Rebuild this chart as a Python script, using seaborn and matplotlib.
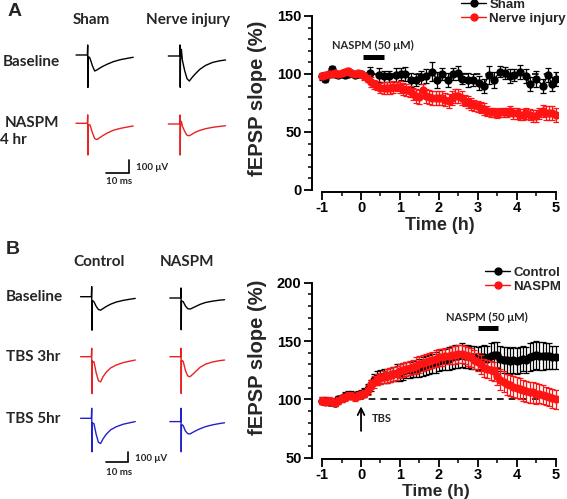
import numpy as np
import pandas as pd
import matplotlib
matplotlib.use("Agg")
import matplotlib.pyplot as plt
from matplotlib.lines import Line2D
from matplotlib.ticker import MultipleLocator
import seaborn as sns

# ---------------------------------------------------------------- data
# one sweep every 5 min from -1 h to 5 h
time_5min = np.arange(-60, 301, 5) / 60.0

# A: sham vs nerve injury, NASPM applied at 0 h
sham_time = [-1.0, -0.917, -0.833, -0.75, -0.667, -0.583, -0.5, -0.417, -0.333,
             -0.25, -0.167, -0.083, 0.0,
             0.22, 0.46, 0.6, 0.73, 0.9, 1.02, 1.14, 1.29, 1.42, 1.55, 1.67, 1.83,
             1.95, 2.08, 2.23, 2.36, 2.49, 2.6, 2.75, 2.87, 3.03, 3.16, 3.28, 3.43,
             3.56, 3.69, 3.82, 3.94, 4.09, 4.23, 4.35, 4.5, 4.67, 4.8, 4.91, 5.0]
sham_slope = [98, 96, 100, 104, 100, 99, 100, 99, 100, 101, 99, 100, 100,
              101, 99, 98, 98, 99, 100, 100, 95, 95, 97, 98, 102,
              95, 100, 95, 100, 101, 96, 95, 95, 92, 90, 99, 95,
              102, 101, 98, 99, 102, 98, 91, 96, 90, 99, 91, 96]
sham_sem = [3, 3, 2, 3, 2, 2, 2, 2, 3, 2, 2, 2, 3,
            5, 6, 5, 5, 6, 5, 6, 6, 5, 6, 6, 8,
            7, 5, 6, 5, 6, 5, 6, 5, 6, 6, 8, 7,
            5, 5, 6, 5, 6, 6, 6, 7, 6, 6, 6, 6]

injury_slope = [98, 99, 100, 100, 101, 100, 101, 102, 103, 101, 100, 101, 100,
                98, 96, 93, 91, 90, 88, 88, 88, 88, 89, 89, 89,
                87, 86, 85, 83, 81, 80, 86, 81, 80, 79, 79, 79,
                79, 78, 77, 79, 81, 81, 79, 77, 76, 74, 73, 72,
                71, 70, 68, 67, 67, 66, 67, 67, 67, 68, 66, 66,
                65, 65, 66, 65, 64, 64, 66, 68, 66, 66, 66, 65]
injury_sem = [2, 2, 2, 2, 2, 2, 2, 2, 2, 2, 2, 2, 2,
              3, 3, 4, 4, 4, 4, 5, 5, 5, 5, 4, 5,
              5, 5, 5, 5, 6, 6, 5, 6, 6, 6, 6, 6,
              6, 6, 6, 6, 6, 6, 6, 5, 5, 5, 5, 5,
              5, 5, 4, 4, 4, 4, 4, 4, 4, 4, 5, 5,
              5, 5, 5, 5, 5, 5, 5, 5, 6, 6, 6, 6]
naspm_window_a = (0.05, 0.58)

# B: TBS at 0 h, control vs NASPM at 3 h
control_slope = [99, 99, 98, 98, 97, 100, 101, 103, 104, 104, 103, 104, 105,
                 106, 109, 112, 117, 118, 119, 120, 120, 121, 122, 123, 123,
                 124, 125, 125, 126, 126, 127, 128, 129, 130, 131, 132, 133,
                 134, 134, 135, 136, 137, 137, 138, 137, 137, 136, 136, 135,
                 136, 136, 135, 137, 138, 138, 135, 134, 134, 133, 134, 133,
                 134, 135, 134, 136, 137, 138, 137, 137, 137, 137, 136, 136]
control_sem = [3, 3, 3, 3, 3, 3, 3, 3, 3, 3, 3, 3, 3,
               4, 4, 5, 5, 6, 6, 6, 6, 6, 6, 7, 7,
               7, 7, 7, 7, 7, 8, 8, 8, 8, 8, 9, 9,
               9, 9, 10, 10, 10, 10, 10, 10, 10, 10, 10, 10,
               10, 11, 11, 11, 11, 11, 11, 11, 11, 11, 11, 11,
               11, 11, 11, 12, 12, 12, 12, 12, 11, 11, 10, 10]
naspm_slope = [99, 98, 99, 98, 97, 99, 101, 102, 103, 103, 102, 103, 104,
               105, 108, 113, 115, 117, 118, 119, 120, 121, 122, 123, 124,
               125, 126, 127, 128, 129, 130, 131, 132, 133, 134, 135, 136,
               136, 137, 137, 138, 138, 139, 139, 138, 137, 136, 134, 132,
               130, 127, 126, 125, 124, 120, 117, 115, 113, 112, 111, 110,
               109, 108, 107, 106, 106, 105, 105, 104, 103, 102, 101, 100]
naspm_sem = [3, 3, 3, 3, 3, 3, 3, 3, 3, 3, 3, 3, 3,
             3, 4, 4, 5, 5, 5, 5, 6, 6, 6, 6, 6,
             6, 6, 6, 6, 7, 7, 7, 7, 7, 7, 7, 7,
             7, 7, 7, 8, 8, 8, 8, 8, 8, 8, 8, 8,
             8, 8, 8, 8, 8, 8, 9, 9, 9, 9, 9, 9,
             9, 9, 9, 9, 9, 9, 8, 8, 8, 8, 8, 8]
naspm_window_b = (3.0, 3.52)

# example fEPSP sweeps (uV) sampled at trace_ms
trace_ms = [-5.0, -0.15, 0.0, 0.1, 0.2, 0.6, 1.0, 2.0, 3.0, 4.0, 5.0, 6.5, 8.5, 11.0, 14.0, 17.0, 19.5]
sham_base_uv = [0, 0, 75, -243, -20, -15, -25, -80, -120, -112, -100, -85, -68, -50, -35, -25, -17]
injury_base_uv = [0, 0, 83, -235, -30, 50, -30, -110, -170, -188, -165, -135, -100, -70, -48, -36, -30]
sham_naspm_uv = [0, 0, 63, -238, -10, -10, -13, -70, -115, -122, -110, -92, -72, -52, -38, -28, -20]
injury_naspm_uv = [0, 0, 68, -233, -15, 20, -15, -55, -85, -88, -78, -62, -48, -35, -25, -18, -13]
control_base_uv = [0, 0, 94, -314, -40, -40, -47, -90, -120, -126, -112, -92, -70, -50, -35, -24, -16]
naspm_base_uv = [0, 0, 94, -298, -30, -31, -35, -75, -100, -104, -95, -80, -60, -42, -30, -21, -16]
control_3hr_uv = [0, 0, 79, -345, -40, -47, -47, -150, -225, -236, -190, -145, -105, -78, -56, -42, -31]
naspm_3hr_uv = [0, 0, 79, -345, -35, -38, -45, -130, -180, -188, -170, -140, -100, -70, -50, -38, -31]
control_5hr_uv = [0, 0, 94, -314, -40, -47, -50, -150, -225, -236, -195, -150, -108, -79, -56, -42, -31]
naspm_5hr_uv = [-31, -31, 94, -314, -60, -62, -70, -120, -143, -147, -135, -118, -98, -78, -62, -50, -42]

# ---------------------------------------------------------------- style
sns.set_theme(style="ticks")
plt.rcParams['font.family'] = ['Liberation Sans', 'DejaVu Sans']
plt.rcParams['font.weight'] = 'bold'
plt.rcParams['axes.labelweight'] = 'bold'
plt.rcParams['axes.unicode_minus'] = False

RED = '#ff1414'
TRACE_RED = '#e82222'
TRACE_BLUE = '#2222c8'
LABEL_FONT = ['Lato', 'DejaVu Sans']

W, H = 567, 499
fig = plt.figure(figsize=(W / 100, H / 100), dpi=100)


def fig_box(x0, y0, x1, y1):
    """pixel box (top-left origin) -> figure fraction rect"""
    return [x0 / W, 1 - y1 / H, (x1 - x0) / W, (y1 - y0) / H]


def ftext(x, y, s, size=11, ha='left', family=LABEL_FONT):
    fig.text(x / W, 1 - y / H, s, fontsize=size, ha=ha, va='center',
             family=family, fontweight='bold')


def draw_course(ax, series, ylim, yspan):
    z = 2
    for time, slope, sem, color in series:
        ax.errorbar(time, slope, yerr=sem, fmt='none', ecolor=color,
                    elinewidth=0.9, capsize=2.2, capthick=0.9, zorder=z)
        df = pd.DataFrame({'time': time, 'slope': slope})
        sns.lineplot(data=df, x='time', y='slope', color=color, marker='o',
                     markersize=6, markeredgewidth=0, linewidth=1,
                     errorbar=None, ax=ax, zorder=z + 1)
        z += 2
    ax.plot([-1, 5], [100, 100], color='black', lw=1.2, dashes=(4, 3), zorder=1)
    ax.set_xlim(-1.26, 5.05)
    ax.set_ylim(*ylim)
    sns.despine(ax=ax)
    ax.spines['bottom'].set_bounds(-1, 5)
    ax.spines['left'].set_bounds(*yspan)
    for sp in ('left', 'bottom'):
        ax.spines[sp].set_linewidth(1.4)
        ax.spines[sp].set_color('black')
    ax.xaxis.set_major_locator(MultipleLocator(1))
    ax.xaxis.set_minor_locator(MultipleLocator(0.5))
    ax.yaxis.set_major_locator(MultipleLocator(50))
    ax.yaxis.set_minor_locator(MultipleLocator(10))
    ax.tick_params(which='major', length=5.5, width=1.3, labelsize=10.5, pad=2,
                   color='black', labelcolor='black')
    ax.tick_params(axis='x', which='major', pad=1)
    ax.tick_params(which='minor', length=3, width=1.1, color='black')
    ax.set_xlabel('Time (h)', fontsize=13)
    ax.set_ylabel('fEPSP slope (%)', fontsize=14.5)
    ax.xaxis.label.set_va('center')
    ax.yaxis.label.set_va('center')


def naspm_bar(ax, window, ybar, ytext):
    ax.plot(window, [ybar, ybar], color='black', lw=3.6, solid_capstyle='butt', zorder=6)
    ax.text(sum(window) / 2 - 0.02, ytext, 'NASPM (50 μM)', ha='center', va='center',
            fontsize=8, family=LABEL_FONT, fontweight='bold')


def legend(entries, x, y):
    handles = [Line2D([], [], color=c, marker='o', markersize=6, markeredgewidth=0, lw=1)
               for _, c in entries]
    fig.legend(handles, [n for n, _ in entries], loc='upper left',
               bbox_to_anchor=(x / W, 1 - y / H), frameon=False, borderpad=0,
               borderaxespad=0, handlelength=1.9, handletextpad=0.25,
               labelspacing=0.15, prop={'size': 9.5, 'weight': 'bold'})


# ---------------------------------------------------------------- A right
ax_a = fig.add_axes(fig_box(312, 16, 557.5, 191.7))
draw_course(ax_a, [(sham_time, sham_slope, sham_sem, 'black'),
                   (time_5min, injury_slope, injury_sem, RED)],
            (-1.5, 150), (0, 150))
ax_a.xaxis.set_label_coords(0.521, -0.19)
ax_a.yaxis.set_label_coords(-0.224, 0.533)
naspm_bar(ax_a, naspm_window_a, 115, 125)
legend([('Sham', 'black'), ('Nerve injury', RED)], 461, -1.5)

# ---------------------------------------------------------------- B right
ax_b = fig.add_axes(fig_box(312, 282.7, 557.5, 459))
draw_course(ax_b, [(time_5min, control_slope, control_sem, 'black'),
                   (time_5min, naspm_slope, naspm_sem, RED)],
            (48.9, 200), (50, 200))
ax_b.xaxis.set_label_coords(0.505, -0.182)
ax_b.xaxis.label.set_fontsize(12.5)
ax_b.yaxis.set_label_coords(-0.224, 0.579)
naspm_bar(ax_b, naspm_window_b, 161.5, 170)
ax_b.annotate('', xy=(0, 94), xytext=(0, 73),
              arrowprops=dict(arrowstyle='->', lw=1.3, color='black',
                              shrinkA=0, shrinkB=0))
ax_b.text(0.27, 84, 'TBS', ha='left', va='center', fontsize=8,
          family=LABEL_FONT, fontweight='bold')
legend([('Control', 'black'), ('NASPM', RED)], 485, 266.3)


# ---------------------------------------------------------------- traces
def trace_panel(box, px_ms, px_uv, traces, bar_corner, uv_label_dy, ms_label_dy):
    x0, y0, x1, y1 = box
    ax = fig.add_axes(fig_box(*box), zorder=-1)
    ax.set_xlim(0, (x1 - x0) / px_ms)
    ax.set_ylim(-(y1 - y0) / px_uv, 0)
    ax.axis('off')
    for xa, yb, uv, color in traces:
        ax.plot([(xa - x0) / px_ms + t for t in trace_ms],
                [-(yb - y0) / px_uv + v for v in uv],
                color=color, lw=1.0)
    cx = (bar_corner[0] - x0) / px_ms
    cy = -(bar_corner[1] - y0) / px_uv
    ax.plot([cx - 10, cx, cx], [cy, cy, cy + 100], color='black', lw=1.2,
            solid_joinstyle='miter')
    ax.text(cx + 3.0, cy + uv_label_dy, '100 μV', ha='left', va='center',
            fontsize=7, family=LABEL_FONT, fontweight='bold')
    ax.text(cx - 10, cy - ms_label_dy, '10 ms', ha='left', va='center',
            fontsize=7, family=LABEL_FONT, fontweight='bold')


trace_panel((0, 0, 270, 230), 2.333, 0.1333,
            [(87.7, 55, sham_base_uv, 'black'),
             (180, 56, injury_base_uv, 'black'),
             (87.7, 123.3, sham_naspm_uv, TRACE_RED),
             (180, 124, injury_naspm_uv, TRACE_RED)],
            (129.3, 173.3), 47, 65)
trace_panel((0, 230, 270, 499), 2.233, 0.1067,
            [(91.7, 296.7, control_base_uv, 'black'),
             (181, 298, naspm_base_uv, 'black'),
             (91.7, 356.7, control_3hr_uv, TRACE_RED),
             (181, 356.7, naspm_3hr_uv, TRACE_RED),
             (91.7, 418.3, control_5hr_uv, TRACE_BLUE),
             (181, 418.3, naspm_5hr_uv, TRACE_BLUE)],
            (128.3, 462.3), 40, 91)

# column / row labels
ftext(15, 12, 'A', size=14, ha='center', family=['Liberation Sans'])
ftext(91, 20, 'Sham', ha='center')
ftext(188, 20, 'Nerve injury', ha='center')
ftext(3, 62, 'Baseline')
ftext(5, 123, 'NASPM')
ftext(0, 140, '4 hr')

ftext(13, 250, 'B', size=14, ha='center', family=['Liberation Sans'])
ftext(99, 262, 'Control', ha='center')
ftext(187, 262, 'NASPM', ha='center')
ftext(6, 297, 'Baseline')
ftext(6, 357, 'TBS 3hr')
ftext(6, 419, 'TBS 5hr')

fig.savefig('out.png', dpi=100)
